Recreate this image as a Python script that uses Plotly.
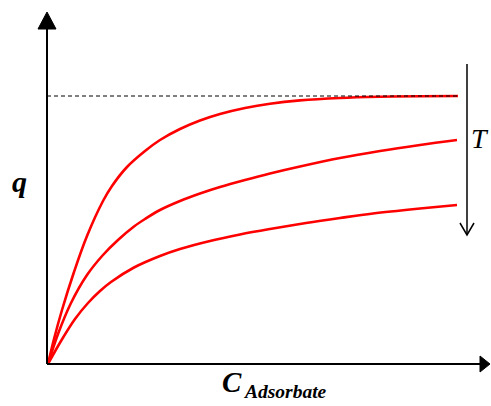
import plotly.graph_objects as go

# Data (x = concentration, y = loading), arbitrary units
x_low_T = [0, 6, 14, 26, 39, 55, 64, 79, 97, 112, 132, 152, 172, 197, 222, 252, 292, 332, 372, 410]
q_low_T = [0, 25, 54, 92, 128, 163, 178, 197, 213, 224, 235, 243.5, 250, 256, 260.3, 263.6, 266, 267.2, 267.8, 268]

x_mid_T = [0, 10, 23, 39, 55, 70, 86, 97, 112, 132, 152, 172, 197, 222, 252, 292, 332, 372, 409]
q_mid_T = [0, 30, 61, 89, 109, 124, 137.5, 145, 154, 163, 170.5, 177, 184, 190.5, 197.5, 206, 213, 219, 224]

x_high_T = [0, 13, 27, 40, 52, 63, 86, 112, 132, 162, 192, 222, 258, 292, 325, 372, 409]
q_high_T = [0, 23, 45, 61, 73, 82, 96.5, 108, 115, 123, 129.5, 135, 141, 146, 150.5, 155.5, 159]

q_max = 268
x_end = 410

fig = go.Figure()
for xs, qs in [(x_low_T, q_low_T), (x_mid_T, q_mid_T), (x_high_T, q_high_T)]:
    fig.add_trace(go.Scatter(x=xs, y=qs, mode="lines",
                             line=dict(color="#ff0000", width=2.6, shape="spline", smoothing=1.0),
                             hoverinfo="skip", showlegend=False))

shapes = []
# saturation dashed line
shapes.append(dict(type="line", x0=-1, x1=x_end, y0=q_max, y1=q_max,
                   line=dict(color="black", width=1, dash="4px,3px")))
# y axis
shapes.append(dict(type="line", x0=-1, x1=-1, y0=0, y1=336, line=dict(color="black", width=2)))
shapes.append(dict(type="path", path="M -10,335 L 8,335 L -1,352 Z",
                   fillcolor="black", line=dict(color="black", width=1)))
# x axis
shapes.append(dict(type="line", x0=-1, x1=433, y0=0, y1=0, line=dict(color="black", width=2)))
shapes.append(dict(type="path", path="M 432,8 L 442,0 L 432,-8 Z",
                   fillcolor="black", line=dict(color="black", width=1)))
# temperature arrow
shapes.append(dict(type="line", x0=419, x1=419, y0=300, y1=129, line=dict(color="black", width=1.5)))
shapes.append(dict(type="path", path="M 412,141 L 419,129 L 426,141",
                   line=dict(color="black", width=1.5)))

fig.update_layout(
    width=491, height=406,
    margin=dict(l=0, r=0, t=0, b=0),
    paper_bgcolor="white", plot_bgcolor="white",
    xaxis=dict(range=[-48, 443], visible=False, fixedrange=True),
    yaxis=dict(range=[-42, 364], visible=False, fixedrange=True),
    shapes=shapes,
    annotations=[
        dict(x=-28.5, y=183, text="<b><i>q</i></b>", showarrow=False,
             font=dict(family="Liberation Serif", size=30, color="black"),
             xanchor="center", yanchor="middle"),
        dict(x=432, y=226, text="<i>T</i>", showarrow=False,
             font=dict(family="Liberation Serif", size=28, color="black"),
             xanchor="center", yanchor="middle"),
        dict(x=184, y=-18, text="<b><i>C</i></b>", showarrow=False,
             font=dict(family="Liberation Serif", size=29, color="black"),
             xanchor="center", yanchor="middle"),
        dict(x=193, y=-27, text="<b><i>Adsorbate</i></b>", showarrow=False,
             font=dict(family="Liberation Serif", size=19.5, color="black"),
             xanchor="left", yanchor="middle"),
    ],
)

fig.write_html("out.html", config={"displayModeBar": False},
               post_script="document.body.style.margin='0';document.body.style.overflow='hidden';")
